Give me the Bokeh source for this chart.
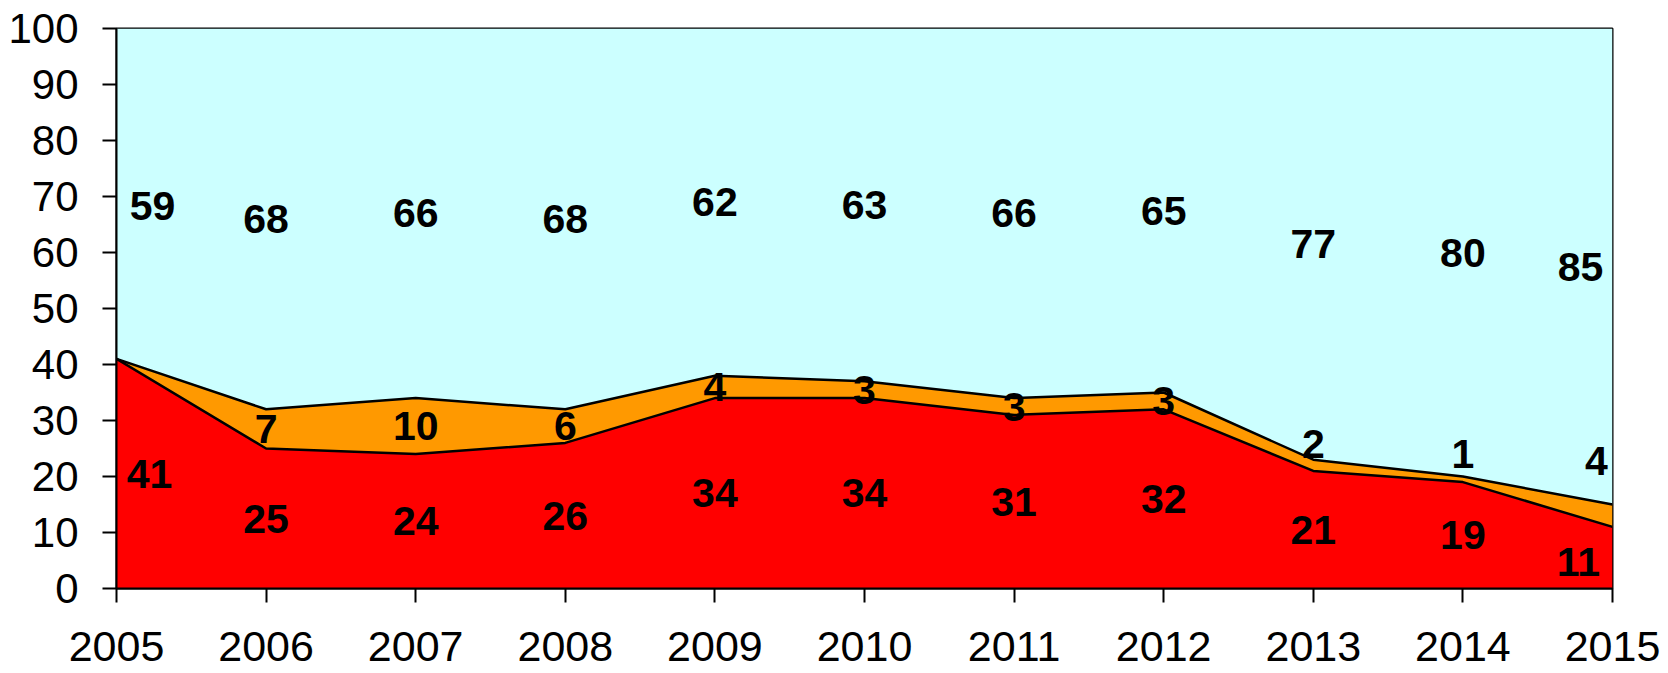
from bokeh.plotting import figure
from bokeh.models import ColumnDataSource, FixedTicker, Range1d
from bokeh.core.properties import value
from bokeh.embed import file_html
from bokeh.resources import INLINE

years = [2005, 2006, 2007, 2008, 2009, 2010, 2011, 2012, 2013, 2014, 2015]
red_vals = [41, 25, 24, 26, 34, 34, 31, 32, 21, 19, 11]
orange_vals = [0, 7, 10, 6, 4, 3, 3, 3, 2, 1, 4]
blue_vals = [59, 68, 66, 68, 62, 63, 66, 65, 77, 80, 85]
orange_labels = ["", "7", "10", "6", "4", "3", "3", "3", "2", "1", "4"]

# label nudges (screen pixels)
red_dx = [33, 0, 0, 0, 0, 0, 0, 0, 0, 0, -34]
red_dy = [0, 0, 0, 0, 0, 0, 0, 0, 0, 0, 4]
orange_dx = [0, 0, 0, 0, 0, 0, 0, 0, 0, 0, -16]
orange_dy = [0, 0, 0, 0, 0, 0, 0, 0, -21, -25, -55]
blue_dx = [36, 0, 0, 0, 0, 0, 0, 0, 0, 0, -32]
blue_dy = [12, 0, 0, 0, 0, 0, 0, 0, 0, 0, 0]

red_top = list(red_vals)
orange_top = [r + o for r, o in zip(red_vals, orange_vals)]
blue_top = [r + o + b for r, o, b in zip(red_vals, orange_vals, blue_vals)]
zeros = [0] * len(years)

src = ColumnDataSource(dict(
    x=years, zero=zeros, red_top=red_top, orange_top=orange_top, blue_top=blue_top,
    red_mid=[r / 2 for r in red_vals],
    orange_mid=[r + o / 2 for r, o in zip(red_vals, orange_vals)],
    blue_mid=[ot + b / 2 for ot, b in zip(orange_top, blue_vals)],
    red_lab=[str(v) for v in red_vals],
    orange_lab=orange_labels,
    blue_lab=[str(v) for v in blue_vals],
    red_dx=red_dx, red_dy=red_dy, orange_dx=orange_dx, orange_dy=orange_dy,
    blue_dx=blue_dx, blue_dy=blue_dy,
))

p = figure(width=1660, height=673, output_backend="svg", toolbar_location=None,
           x_range=Range1d(2005, 2015), y_range=Range1d(0, 100),
           min_border_left=116, min_border_top=28, min_border_right=48, min_border_bottom=85)

p.varea(x="x", y1="orange_top", y2="blue_top", source=src, fill_color="#CCFFFF")
p.varea(x="x", y1="red_top", y2="orange_top", source=src, fill_color="#FF9900")
p.varea(x="x", y1="zero", y2="red_top", source=src, fill_color="#FF0000")
p.line(x="x", y="orange_top", source=src, line_color="black", line_width=2.5)
p.line(x="x", y="red_top", source=src, line_color="black", line_width=2.5)

common = dict(text_font=value("Liberation Sans"), text_font_style="bold",
              text_font_size="41px", text_color="black",
              text_align="center", text_baseline="middle")
p.text(x="x", y="red_mid", text="red_lab", x_offset="red_dx", y_offset="red_dy", source=src, **common)
p.text(x="x", y="orange_mid", text="orange_lab", x_offset="orange_dx", y_offset="orange_dy", source=src, **common)
p.text(x="x", y="blue_mid", text="blue_lab", x_offset="blue_dx", y_offset="blue_dy", source=src, **common)

p.grid.visible = False
p.outline_line_color = "black"
p.outline_line_width = 2
p.background_fill_color = "white"
p.border_fill_color = "white"

for ax in (p.xaxis[0], p.yaxis[0]):
    ax.axis_line_color = "black"
    ax.axis_line_width = 2
    ax.major_tick_line_color = "black"
    ax.major_tick_line_width = 2
    ax.major_tick_out = 14
    ax.major_tick_in = 0
    ax.minor_tick_line_color = None
    ax.major_label_text_font = "Liberation Sans"
    ax.major_label_text_color = "black"

p.xaxis.major_label_text_font_size = "43px"
p.yaxis.major_label_text_font_size = "42px"
p.xaxis.ticker = FixedTicker(ticks=years)
p.yaxis.ticker = FixedTicker(ticks=list(range(0, 101, 10)))
p.xaxis.major_label_standoff = 29
p.yaxis.major_label_standoff = 24

open("out.html", "w").write(file_html(p, INLINE))
